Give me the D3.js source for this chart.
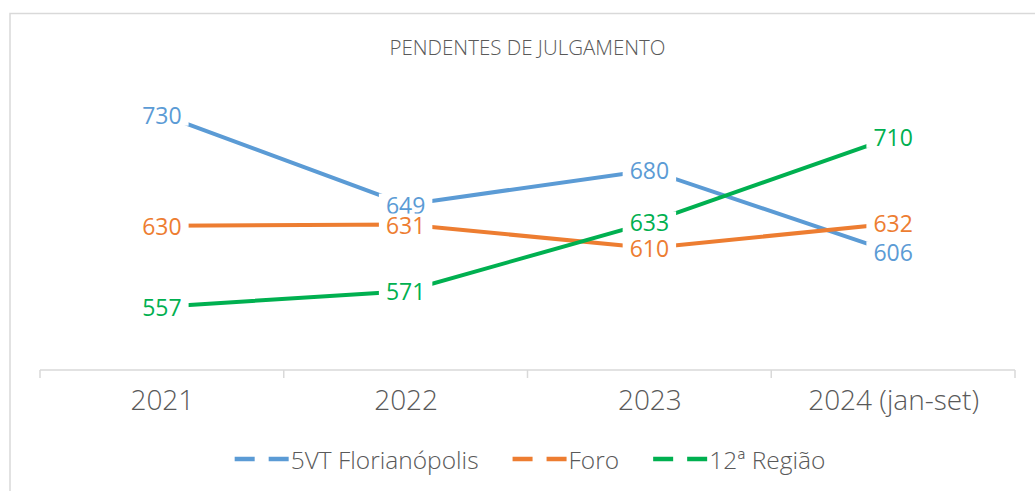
<!DOCTYPE html>
<html>
<head>
<meta charset="utf-8">
<script src="https://cdn.jsdelivr.net/npm/d3@7"></script>
<style>
  body { margin: 0; background: #fff; }
  svg { display: block; }
</style>
</head>
<body>
<script>
// chart values
let categories = ["2021", "2022", "2023", "2024 (jan-set)"];
let seriesNames = ["5VT Florianópolis", "Foro", "12ª Região"];
let vt5Values = [730, 649, 680, 606];
let foroValues = [630, 631, 610, 632];
let regiaoValues = [557, 571, 633, 710];
let titleText = "PENDENTES DE JULGAMENTO";

let width = 1035;
let height = 491;
let plot = { left: 40, right: 1015, top: 37, bottom: 370 };
let colors = ["#5B9BD5", "#ED7D31", "#00B050"];
let textGrey = "#595959";
let font = "'Open Sans', sans-serif";

let svg = d3.select("body")
    .append("svg")
    .attr("width", width)
    .attr("height", height);

// chart frame
svg.append("rect")
    .attr("x", 10)
    .attr("y", 13.5)
    .attr("width", width)
    .attr("height", height)
    .attr("fill", "none")
    .attr("stroke", "#d9d9d9")
    .attr("stroke-width", 1.5);

let xBand = d3.scaleBand()
    .domain(categories)
    .range([plot.left, plot.right])
    .paddingInner(0)
    .paddingOuter(0);
let xScale = d3.scalePoint()
    .domain(categories)
    .range([plot.left, plot.right])
    .padding(0.5);
let yScale = d3.scaleLinear()
    .domain([500, 800])
    .range([plot.bottom, plot.top]);

// title
svg.append("text")
    .attr("x", (plot.left + plot.right) / 2)
    .attr("y", 47)
    .attr("text-anchor", "middle")
    .attr("dominant-baseline", "central")
    .style("font-family", font)
    .style("font-weight", 300)
    .style("font-size", "20.5px")
    .style("fill", textGrey)
    .text(titleText);

// x axis
let xAxis = d3.axisBottom(xScale).tickSize(0).tickPadding(20);
let axisG = svg.append("g")
    .attr("transform", "translate(0," + plot.bottom + ")")
    .call(xAxis);
axisG.select(".domain").remove();
axisG.selectAll("text")
    .style("font-family", font)
    .style("font-weight", 300)
    .style("font-size", "28px")
    .style("fill", textGrey);

axisG.append("line")
    .attr("x1", plot.left)
    .attr("x2", plot.right)
    .attr("y1", 0)
    .attr("y2", 0)
    .attr("stroke", "#d9d9d9")
    .attr("stroke-width", 1.5);

let boundaries = categories.map(c => xBand(c)).concat([xBand(categories[categories.length - 1]) + xBand.bandwidth()]);
axisG.selectAll("line.bound")
    .data(boundaries)
    .join("line")
    .attr("class", "bound")
    .attr("x1", d => d)
    .attr("x2", d => d)
    .attr("y1", 0)
    .attr("y2", 8)
    .attr("stroke", "#d9d9d9")
    .attr("stroke-width", 1.5);

let allSeries = [vt5Values, foroValues, regiaoValues];
let line = d3.line()
    .x((d, i) => xScale(categories[i]))
    .y(d => yScale(d));

svg.append("g")
    .selectAll("path")
    .data(allSeries)
    .join("path")
    .attr("d", d => line(d))
    .attr("fill", "none")
    .attr("stroke", (d, i) => colors[i])
    .attr("stroke-width", 4);

// data labels with white background so the lines stop short of them
let labelG = svg.append("g");
allSeries.forEach((vals, si) => {
    vals.forEach((v, i) => {
        let g = labelG.append("g");
        let bg = g.append("rect").attr("fill", "#fff");
        let t = g.append("text")
            .attr("x", xScale(categories[i]))
            .attr("y", yScale(v))
            .attr("text-anchor", "middle")
            .attr("dominant-baseline", "central")
            .style("font-family", font)
            .style("font-size", "23px")
            .style("fill", colors[si])
            .text(v);
        let bb = t.node().getBBox();
        bg.attr("x", bb.x - 7)
            .attr("y", bb.y + 5)
            .attr("width", bb.width + 14)
            .attr("height", bb.height - 10);
    });
});

// legend
let legend = svg.append("g");
let lx = 0;
seriesNames.forEach((name, i) => {
    legend.append("line")
        .attr("x1", lx)
        .attr("x2", lx + 54)
        .attr("y1", 0)
        .attr("y2", 0)
        .attr("stroke", colors[i])
        .attr("stroke-width", 4.5)
        .attr("stroke-dasharray", "20,14");
    let t = legend.append("text")
        .attr("x", lx + 56)
        .attr("y", 0)
        .attr("dominant-baseline", "central")
        .style("font-family", font)
        .style("font-weight", 300)
        .style("font-size", "24.5px")
        .style("fill", textGrey)
        .text(name);
    lx += 56 + t.node().getComputedTextLength() + 34;
});
let legendWidth = lx - 34;
legend.attr("transform", "translate(" + (530 - legendWidth / 2) + ",459)");
</script>
</body>
</html>
